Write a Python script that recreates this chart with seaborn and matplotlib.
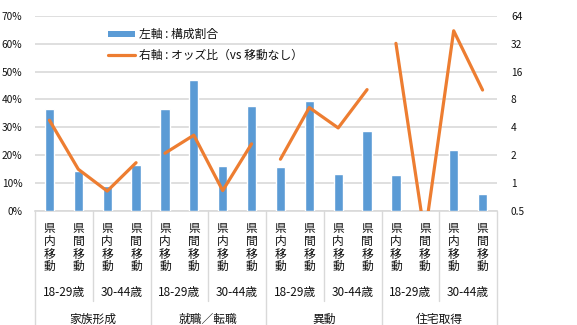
import matplotlib
matplotlib.use("Agg")
import matplotlib.pyplot as plt
import matplotlib.transforms as mtransforms
from matplotlib.patches import Patch
from matplotlib.lines import Line2D
import seaborn as sns
import pandas as pd

sns.set_style("white")
plt.rcParams['font.family'] = ['Noto Sans CJK JP', 'DejaVu Sans']

# ---- data ----
moves = ["県内移動", "県間移動"]
ages = ["18-29歳", "30-44歳"]
reasons = ["家族形成", "就職／転職", "異動", "住宅取得"]
share = [36.4, 14.5, 9.1, 16.4,
         36.7, 46.8, 16.0, 37.8,
         15.7, 39.4, 13.4, 28.5,
         12.8, 0.0, 21.7, 6.0]
odds = [4.77, 1.41, 0.82, 1.66,
        2.10, 3.29, 0.83, 2.65,
        1.81, 6.53, 3.94, 10.2,
        32.2, 0.27, 44.0, 10.1]
legend_labels = ["左軸 : 構成割合", "右軸 : オッズ比（vs 移動なし）"]
left_ticks = [0, 10, 20, 30, 40, 50, 60, 70]
right_ticks = [0.5, 1, 2, 4, 8, 16, 32, 64]
right_tick_labels = ["0.5", "1", "2", "4", "8", "16", "32", "64"]

rows = []
i = 0
for r in reasons:
    for a in ages:
        for m in moves:
            rows.append({"idx": i, "reason": r, "age": a, "move": m,
                         "share": share[i], "odds": odds[i]})
            i += 1
df = pd.DataFrame(rows)

BLUE = "#5B9BD5"
ORANGE = "#ED7D31"
GRID = "#D9D9D9"
TXT = "#111111"
FS_TICK = 7.3
FS = 8.5

W, H = 577, 325
fig = plt.figure(figsize=(W / 100, H / 100), dpi=100)
ax_l, ax_r, ax_t, ax_b = 35, 497, 15.7, 211
ax = fig.add_axes([ax_l / W, 1 - ax_b / H, (ax_r - ax_l) / W, (ax_b - ax_t) / H])

sns.barplot(data=df, x="idx", y="share", color=BLUE, width=0.32,
            saturation=1, ax=ax, zorder=3)
ax.set_xlim(-0.5, 15.5)
ax.set_ylim(0, 70)
ax.set_yticks(left_ticks)
ax.set_yticklabels([f"{t}%" for t in left_ticks], fontsize=FS_TICK, color=TXT)
ax.set_xticks([])
ax.set_xlabel("")
ax.set_ylabel("")
ax.tick_params(axis="y", length=0, pad=9)
ax.grid(axis="y", color=GRID, lw=1.2, zorder=0)
ax.set_axisbelow(True)
for s in ["top", "right", "left"]:
    ax.spines[s].set_visible(False)
ax.spines["bottom"].set_color(GRID)
ax.spines["bottom"].set_linewidth(1.2)

ax2 = ax.twinx()
sns.lineplot(data=df, x="idx", y="odds", units="reason", estimator=None,
             color=ORANGE, lw=2.3, ax=ax2, legend=False, zorder=4)
ax2.set_yscale("log", base=2)
ax2.set_ylim(0.5, 64)
ax2.set_xlim(-0.5, 15.5)
ax2.set_yticks(right_ticks)
ax2.set_yticklabels(right_tick_labels, fontsize=FS_TICK, color=TXT)
ax2.yaxis.set_minor_locator(matplotlib.ticker.NullLocator())
ax2.tick_params(axis="y", length=0, pad=10)
ax2.set_ylabel("")
ax2.set_xlabel("")
for s in ["top", "right", "left", "bottom"]:
    ax2.spines[s].set_visible(False)

# legend
handles = [Patch(facecolor=BLUE, edgecolor="none"),
           Line2D([0], [0], color=ORANGE, lw=2.3)]
ax2.legend(handles, legend_labels, loc="upper left",
           bbox_to_anchor=(0.135, 0.99), frameon=False, fontsize=FS,
           handlelength=2.3, handleheight=0.5, handletextpad=0.35,
           labelspacing=0.65, labelcolor=TXT)

# multi-level category labels
tr = mtransforms.blended_transform_factory(ax.transData, fig.transFigure)
def fy(y):
    return 1 - y / H

for _, row in df.iterrows():
    ax.text(row["idx"], fy(222), "\n".join(row["move"]), transform=tr,
            ha="center", va="top", fontsize=FS, color=TXT,
            linespacing=0.98, clip_on=False)
for k in range(8):
    ax.text(2 * k + 0.5, fy(292.5), ages[k % 2], transform=tr,
            ha="center", va="center", fontsize=FS, color=TXT, clip_on=False)
for k in range(4):
    ax.text(4 * k + 1.5, fy(319), reasons[k], transform=tr,
            ha="center", va="center", fontsize=FS, color=TXT, clip_on=False)

for b in [1.5, 5.5, 9.5, 13.5]:
    ax.plot([b, b], [fy(211), fy(301)], transform=tr, color=GRID, lw=1.0,
            clip_on=False)
for b in [-0.5, 3.5, 7.5, 11.5, 15.5]:
    ax.plot([b, b], [fy(211), fy(330)], transform=tr, color=GRID, lw=1.0,
            clip_on=False)

fig.savefig("out.png", dpi=100)
